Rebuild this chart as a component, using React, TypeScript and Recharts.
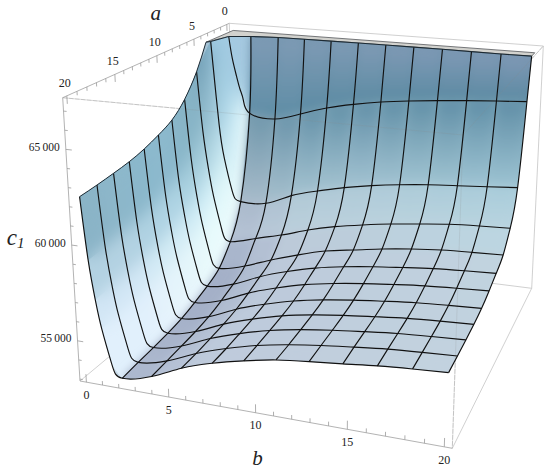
import { Line, LineChart, XAxis, YAxis } from "recharts";

// mesh positions; the surface is clipped at cClip along the top ridge
const bMesh = [2, 3.8, 5.6, 7.4, 9.2, 11, 12.8, 14.6, 16.4, 18.2, 20];
const aMesh = [2, 3.8, 5.6, 7.4, 9.2, 11, 12.8, 14.6, 16.4, 18.2, 20];
const cClip = 67360;
const ridgeA = [1.5, 1.2, 1.15, 1.1, 1.05, 1.05, 1.05, 1.05, 1.1, 1.15, 1.1];
const ridgeHeadA = [2, 1.9, 1.8, 1.7, 1.6];
const ridgeHeadB = [0.64, 0.9, 1.2, 1.5, 1.75];

// c1 on the mesh: rows follow aMesh, columns follow bMesh
const cMesh = [
  [62604, 62394, 62860, 63384, 63760, 64053, 64263, 64435, 64588, 64721, 64835],
  [57549, 57629, 58280, 58747, 59131, 59433, 59671, 59856, 59983, 60109, 60245],
  [55632, 56026, 56434, 56933, 57331, 57629, 57886, 58086, 58274, 58376, 58453],
  [54611, 54960, 55530, 56036, 56476, 56748, 57016, 57229, 57386, 57469, 57537],
  [54173, 54513, 55164, 55682, 56097, 56393, 56615, 56792, 56955, 57059, 57148],
  [53862, 54202, 54854, 55372, 55786, 56082, 56304, 56482, 56644, 56748, 56837],
  [53610, 53951, 54602, 55120, 55534, 55830, 56052, 56230, 56393, 56496, 56585],
  [53470, 53810, 54461, 54979, 55394, 55690, 55912, 56089, 56252, 56356, 56445],
  [53388, 53729, 54380, 54898, 55312, 55608, 55830, 56008, 56171, 56274, 56363],
  [53322, 53662, 54313, 54831, 55246, 55542, 55764, 55941, 56104, 56208, 56297],
  [53233, 53596, 54290, 54809, 55194, 55509, 55693, 55848, 56021, 56147, 56245],
];

// the steep wall at small b, before each a line reaches the mesh
const bHead = [0, 0.3, 0.6, 0.9, 1.4];
const bHeadA2 = [0.64, 0.85, 1.13, 1.35, 1.57];
const bHeadA38 = [0.19, 0.3, 0.6, 0.9, 1.4];
const cHead = [
  [67360, 66000, 64851, 64074, 63408],
  [67360, 65894, 62224, 60152, 58154],
  [65841, 62165, 59920, 58287, 56348],
  [64562, 60981, 58790, 57198, 55308],
  [63754, 60245, 58197, 56664, 54843],
  [63327, 59920, 57837, 56323, 54525],
  [62997, 59618, 57553, 56051, 54268],
  [62770, 59422, 57376, 55888, 54121],
  [62635, 59307, 57272, 55792, 54035],
  [62526, 59212, 57188, 55715, 53966],
  [62449, 59131, 57103, 55629, 53877],
];

const aTicks = [0, 1, 2, 3, 4, 5, 6, 7, 8, 9, 10, 11, 12, 13, 14, 15, 16, 17, 18, 19, 20];
const bTicks = aTicks;
const cTicks = [53000, 54000, 55000, 56000, 57000, 58000, 59000, 60000, 61000, 62000, 63000, 64000, 65000, 66000, 67000];
const cLabels = [55000, 60000, 65000];
const abLabels = [0, 5, 10, 15, 20];

// cell shading, one row per band between two a lines
const headShades = [
  ["#a5c9e0", "#a5c9e0", "#a5c9e0", "#a5c9e0", "#a5c9e0"],
  ["#a0cbe2", "#a3cde2", "#b5dcec", "#d0eef6", "#e6f8fb"],
  ["#78a5bb", "#a0c8d7", "#c3e4ee", "#e1f8fa", "#ebfafc"],
  ["#87b4c6", "#a5cddc", "#cdebf5", "#e6fafc", "#ecfbfd"],
  ["#88b5c8", "#a8d0df", "#cfebf5", "#e5f8fb", "#eafafc"],
  ["#8cb9cd", "#afd4e4", "#d2ebf5", "#e4f5fa", "#e8f6fc"],
  ["#8cb9cd", "#afd3e3", "#d2ebf5", "#e4f4fb", "#e8f5fc"],
  ["#8ab7cb", "#afd2e2", "#d2e9f5", "#e3f2fb", "#e6f3fc"],
  ["#8db8cb", "#b2d2e2", "#d2e7f5", "#e1f0fc", "#e3f1fc"],
  ["#8cb6c9", "#b3d2e2", "#d2e6f5", "#e1f0fc", "#e1f0fc"],
  ["#8ab4c7", "#b3d2e2", "#d2e6f5", "#e1f0fc", "#e1f0fc"],
];
const planeTop = [
  ["#7f9bb5", "#7f9bb5", "#8199b6"],
  ["#6f97ab", "#6491a8", "#5f8ea6"],
  ["#a9b9cb", "#b0c9d6", "#a7ccda"],
  ["#a9b6cc", "#bccad9", "#bcd7e2"],
  ["#a4b0c8", "#bcc9da", "#c2d4e0"],
  ["#a4b0c8", "#bcc9da", "#c2d4e0"],
  ["#a4b0c8", "#bcc9da", "#c2d4e0"],
  ["#a4b0c8", "#bcc9da", "#c2d4e0"],
  ["#a8b4cb", "#bdcadb", "#c2d3df"],
  ["#a8b4cb", "#bdcadb", "#c2d3df"],
  ["#acb8ce", "#becadb", "#c3d3df"],
];
const planeLow = [
  ["#5f8ea6", "#5c8ba3", "#5c8aa2"],
  ["#a8bccb", "#a5c3d1", "#9dc4d3"],
  ["#b7c4d6", "#bcd0dc", "#b8d5e0"],
  ["#a9b6cc", "#bccad9", "#bcd7e2"],
  ["#a4b0c8", "#bcc9da", "#c2d4e0"],
  ["#a4b0c8", "#bcc9da", "#c2d4e0"],
  ["#a4b0c8", "#bcc9da", "#c2d4e0"],
  ["#a8b4cb", "#bdcadb", "#c2d3df"],
  ["#a8b4cb", "#bdcadb", "#c2d3df"],
  ["#acb8ce", "#becadb", "#c3d3df"],
  ["#acb8ce", "#becadb", "#c3d3df"],
];

const WIDTH = 550;
const HEIGHT = 473;
const cMin = 52900;
const cMax = 67700;
const dMin = -0.4;
const dMax = 20.4;

// box corners as the camera sees them: [a=min,b=min], [a=max,b=min], [a=max,b=max], [a=min,b=max]
const floorCorners = [[236, 251], [80, 381], [452.3, 448.3], [531.7, 288.3]];
const roofCorners = [[229.3, 23.3], [62.7, 97.7], [463, 135], [543.3, 46]];

const warp = (t: number, r: number) => t / (t + (1 - t) * r);
const mix = (p: number, q: number, t: number) => p + (q - p) * t;

function project(a: number, b: number, c: number) {
  const u = warp((a - dMin) / (dMax - dMin), 1.3);
  const v = warp((b - dMin) / (dMax - dMin), 1.12);
  const w = (c - cMin) / (cMax - cMin);
  const flat = (k: number[][], i: number) =>
    mix(mix(k[0][i], k[3][i], v), mix(k[1][i], k[2][i], v), u);
  return {
    x: mix(flat(floorCorners, 0), flat(roofCorners, 0), w),
    y: mix(flat(floorCorners, 1), flat(roofCorners, 1), w),
  };
}

// rows[0] is the clipped ridge, rows[1..11] are the a lines; every row has 16 points
const ridgeRow = [
  ...ridgeHeadA.map((a, i) => project(a, ridgeHeadB[i], cClip)),
  ...bMesh.map((b, i) => project(ridgeA[i], b, cClip)),
];
const rows = [
  ridgeRow,
  ...aMesh.map((a, r) => {
    const heads = r === 0 ? bHeadA2 : r === 1 ? bHeadA38 : bHead;
    return [
      ...heads.map((b, i) => project(a, b, cHead[r][i])),
      ...bMesh.map((b, i) => project(a, b, cMesh[r][i])),
    ];
  }),
];
const COLS = 16;
const cornerPoint = project(4.1, 0, cClip);
const capStart = project(0.1, 0.1, cClip);
const capEnd = project(0.1, 20, cClip);
const surfacePoints = [...rows.flat(), cornerPoint, capStart, capEnd];

const leftEdge = [...rows.slice(3).map((row) => row[0]).reverse(), cornerPoint];

const hexMix = (p: string, q: string, t: number) => {
  const ch = (s: string, i: number) => parseInt(s.slice(1 + i * 2, 3 + i * 2), 16);
  return `rgb(${[0, 1, 2].map((i) => Math.round(mix(ch(p, i), ch(q, i), t))).join(",")})`;
};
const planeColor = (keys: string[], col: number) =>
  col < 2 ? hexMix(keys[0], keys[1], col / 2) : hexMix(keys[1], keys[2], (col - 2) / 8);

type Pt = { x: number; y: number };
const spline = (p: Pt[]) =>
  p
    .slice(0, -1)
    .map((q, i) => {
      const p0 = p[i - 1] ?? q;
      const p2 = p[i + 1];
      const p3 = p[i + 2] ?? p2;
      return `C ${q.x + (p2.x - p0.x) / 6} ${q.y + (p2.y - p0.y) / 6} ${p2.x - (p3.x - q.x) / 6} ${p2.y - (p3.y - q.y) / 6} ${p2.x} ${p2.y}`;
    })
    .join(" ");

function renderSurface(props: any) {
  if (props.index !== 0) return <g key={props.index} />;
  const pts: Pt[] = props.points;
  const at = (r: number, c: number) => pts[r * COLS + c];
  const extra = rows.length * COLS;
  const top = Array.from({ length: COLS }, (_, c) => at(0, c));
  const right = rows.map((_, r) => at(r, COLS - 1));
  const bottom = Array.from({ length: COLS }, (_, c) => at(rows.length - 1, COLS - 1 - c));
  const left = rows.slice(3).map((_, i) => at(rows.length - 1 - i, 0));
  const outline = [
    `M ${top[0].x} ${top[0].y}`,
    ...top.slice(1).map((p) => `L ${p.x} ${p.y}`),
    spline(right),
    spline(bottom),
    spline(left),
    `L ${pts[extra].x} ${pts[extra].y}`,
    `L ${at(2, 0).x} ${at(2, 0).y}`,
    "Z",
  ].join(" ");

  const headCells: any[] = [];
  const planeCells: any[] = [];
  const grads: any[] = [];
  for (let r = 0; r < rows.length - 1; r++) {
    for (let c = 0; c < COLS - 1; c++) {
      const corners = [at(r, c), at(r, c + 1), at(r + 1, c + 1), at(r + 1, c)];
      const poly = corners.map((p) => `${p.x},${p.y}`).join(" ");
      if (c < 5) {
        headCells.push(<polygon key={`${r}-${c}`} points={poly} fill={headShades[r][c]} stroke={headShades[r][c]} />);
      } else {
        const id = `cell-${r}-${c}`;
        grads.push(
          <linearGradient key={id} id={id} x1="0" y1="0" x2="0" y2="1">
            <stop offset="0" stopColor={planeColor(planeTop[r], c - 5)} />
            <stop offset="1" stopColor={planeColor(planeLow[r], c - 5)} />
          </linearGradient>,
        );
        planeCells.push(<polygon key={`${r}-${c}`} points={poly} fill={`url(#${id})`} stroke={planeColor(planeLow[r], c - 5)} />);
      }
    }
  }
  const cap = [...top.map((p) => `${p.x},${p.y}`), `${pts[extra + 2].x},${pts[extra + 2].y}`, `${pts[extra + 1].x},${pts[extra + 1].y}`, `${pts[extra].x},${pts[extra].y}`].join(" ");

  return (
    <g key="surface">
      <defs>
        <clipPath id="surface-clip">
          <path d={outline} />
        </clipPath>
        <filter id="soft-head" x="-10%" y="-10%" width="120%" height="120%">
          <feGaussianBlur stdDeviation="8" />
        </filter>
        <filter id="soft-plane" x="-5%" y="-5%" width="110%" height="110%">
          <feGaussianBlur stdDeviation="4" />
        </filter>
        {grads}
      </defs>
      <polygon points={cap} fill="#d2d2ce" stroke="#55585c" strokeWidth={0.8} />
      <g clipPath="url(#surface-clip)">
        <path d={outline} fill="#b3c8d8" />
        <g>{headCells}</g>
        <g filter="url(#soft-head)">{headCells}</g>
        <g>{planeCells}</g>
        <g filter="url(#soft-plane)">{planeCells}</g>
      </g>
    </g>
  );
}

type Label = Pt & { text: string; kind: string };
const fmtC = (v: number) => `${Math.floor(v / 1000)}\u2009000`;

const labelPoints: Label[] = [
  ...abLabels.map((a) => {
    const p = project(a, dMin, cMax);
    return { x: p.x - 2, y: p.y - 12, text: String(a), kind: "tick" };
  }),
  ...abLabels.map((b) => {
    const p = project(dMax, b, cMin);
    return { x: p.x, y: p.y + 14, text: String(b), kind: "tick" };
  }),
  ...cLabels.map((c) => {
    const p = project(dMax, dMin, c);
    return { x: p.x - 6, y: p.y - 1, text: fmtC(c), kind: "ctick" };
  }),
  { ...project(10, dMin, cMax), text: "a", kind: "aTitle" },
  { ...project(dMax, 10, cMin), text: "b", kind: "bTitle" },
  { ...project(dMax, dMin, 60000), text: "c", kind: "cTitle" },
];

function renderLabel(props: any) {
  const { cx, cy, payload, index } = props;
  const font = { fontFamily: "'Liberation Serif', serif", fill: "#222" };
  if (payload.kind === "tick")
    return <text key={index} x={cx} y={cy} textAnchor="middle" dominantBaseline="middle" fontSize={12} {...font}>{payload.text}</text>;
  if (payload.kind === "ctick")
    return <text key={index} x={cx} y={cy} textAnchor="end" dominantBaseline="middle" fontSize={11.5} {...font}>{payload.text}</text>;
  if (payload.kind === "aTitle")
    return <text key={index} x={cx - 1} y={cy - 36} textAnchor="middle" fontSize={21} fontStyle="italic" {...font}>a</text>;
  if (payload.kind === "bTitle")
    return <text key={index} x={cx + 2} y={cy + 52} textAnchor="middle" fontSize={21} fontStyle="italic" {...font}>b</text>;
  return (
    <text key={index} x={cx - 65} y={cy} fontSize={23} fontStyle="italic" {...font}>
      c<tspan fontSize={15} dy={3}>1</tspan>
    </text>
  );
}

const corner = (a: number, b: number, c: number) => project(a, b, c);
const backEdges = [
  [corner(dMin, dMin, cMax), corner(dMin, dMin, cMin)],
  [corner(dMin, dMin, cMin), corner(dMax, dMin, cMin)],
  [corner(dMin, dMin, cMin), corner(dMin, dMax, cMin)],
  [corner(dMin, dMax, cMin), corner(dMin, dMax, cMax)],
  [corner(dMin, dMin, cMax), corner(dMin, dMax, cMax)],
  [corner(dMax, dMax, cMin), corner(dMin, dMax, cMin)],
];
const frontEdges = [
  [corner(dMax, dMin, cMax), corner(dMax, dMax, cMax)],
  [corner(dMax, dMax, cMax), corner(dMin, dMax, cMax)],
  [corner(dMax, dMax, cMax), corner(dMax, dMax, cMin)],
];
const axisEdges = [
  [corner(dMin, dMin, cMax), corner(dMax, dMin, cMax)],
  [corner(dMax, dMin, cMax), corner(dMax, dMin, cMin)],
  [corner(dMax, dMin, cMin), corner(dMax, dMax, cMin)],
];
const tickMarks = [
  ...aTicks.map((a) => [project(a, dMin, cMax), project(a, dMin, cMax - (a % 5 === 0 ? 420 : 210))]),
  ...bTicks.map((b) => [project(dMax, b, cMin), project(dMax, b, cMin + (b % 5 === 0 ? 420 : 210))]),
  ...cTicks.map((c) => [project(dMax, dMin, c), project(dMax, dMin + (c % 5000 === 0 ? 0.35 : 0.18), c)]),
];

const TOP_LAYER = 900;

const seg = (key: string, data: Pt[], stroke: string, width: number, extra: any = {}) => (
  <Line
    key={key}
    data={data}
    dataKey="y"
    type="linear"
    stroke={stroke}
    strokeWidth={width}
    dot={false}
    activeDot={false}
    legendType="none"
    isAnimationActive={false}
    {...extra}
  />
);

export default function App() {
  return (
    <div style={{ position: "absolute", left: 0, top: 0, width: WIDTH, height: HEIGHT, background: "#fff" }}>
      <LineChart width={WIDTH} height={HEIGHT} margin={{ top: 0, right: 0, bottom: 0, left: 0 }}>
        <XAxis type="number" dataKey="x" domain={[0, WIDTH]} hide allowDataOverflow />
        <YAxis type="number" domain={[0, HEIGHT]} reversed hide allowDataOverflow />
        {backEdges.map((e, i) => seg(`back-${i}`, e, "#c4c4c4", 0.8))}
        {frontEdges.map((e, i) => seg(`front-low-${i}`, e, "#c4c4c4", 0.8, { strokeDasharray: "5 1" }))}
        {axisEdges.map((e, i) => seg(`axis-${i}`, e, "#a0a0a0", 0.8))}
        {tickMarks.map((e, i) => seg(`tick-${i}`, e, "#9a9a9a", 0.8))}
        <Line
          data={surfacePoints}
          dataKey="y"
          stroke="none"
          dot={renderSurface}
          activeDot={false}
          legendType="none"
          isAnimationActive={false}
        />
        {frontEdges.map((e, i) => seg(`front-${i}`, e, "#8a8a8a", 0.6, { strokeOpacity: 0.3, zIndex: TOP_LAYER }))}
        {rows.slice(1).map((row, r) => seg(`a-${r}`, row, "#111", 1.15, { type: "natural", zIndex: TOP_LAYER }))}
        {bMesh.map((_, j) => seg(`b-${j}`, rows.map((row) => row[j + 5]), "#111", 1.15, { type: "natural", zIndex: TOP_LAYER }))}
        {seg("left-edge", leftEdge, "#1d2a33", 1, { type: "natural", zIndex: TOP_LAYER })}
        {seg("ridge", ridgeRow, "#1d2a33", 1.1, { zIndex: TOP_LAYER })}
        {seg("corner", [cornerPoint, rows[2][0], rows[1][0]], "#1d2a33", 1, { zIndex: TOP_LAYER })}
        <Line
          data={labelPoints}
          dataKey="y"
          stroke="none"
          dot={renderLabel}
          activeDot={false}
          legendType="none"
          isAnimationActive={false}
        />
      </LineChart>
    </div>
  );
}
